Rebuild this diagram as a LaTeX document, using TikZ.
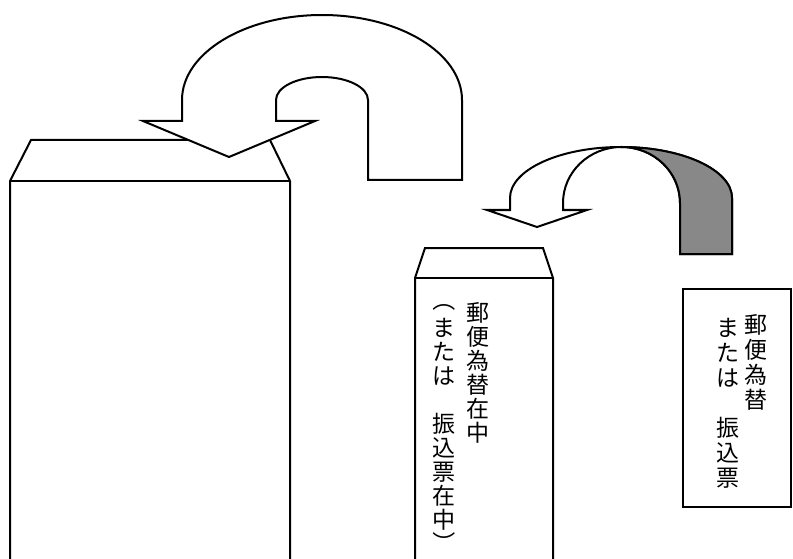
\documentclass[tikz,border=0pt]{standalone}
\usepackage{fontspec}
\newfontfamily\jp{Noto Sans CJK JP}
\usetikzlibrary{positioning}
\definecolor{backgray}{RGB}{136,136,136}
\tikzstyle{outline}=[draw=black, line width=2pt, line join=miter]
\tikzstyle{moji}=[inner sep=0pt, anchor=base, font=\jp\fontsize{23}{24}\selectfont]
\tikzstyle{kakko}=[inner sep=0pt, anchor=center, rotate=-90, font=\jp\fontsize{23}{24}\selectfont]

\begin{document}
\begin{tikzpicture}[x=1pt, y=-1pt]
            \useasboundingbox (0,0) rectangle (793,559);
            %large envelope, flap open
            \draw[outline] (10,559) -- (10,181) -- (31,140) -- (270,140) -- (290,181) -- (290,559);
            \draw[outline] (10,181) -- (290,181);
            %big turning arrow over the flap
            \draw[outline, fill=white] (229,157) -- (143,121) -- (182,121) -- (182,100)
                arc[start angle=180, end angle=0, x radius=140pt, y radius=85pt] -- (462,180) -- (368,180) -- (368,100)
                arc[start angle=0, end angle=180, x radius=46pt, y radius=23pt] -- (276,121) -- (315,121) -- cycle;
            %small envelope
            \draw[outline] (415,559) -- (415,278) -- (425,248) -- (543,248) -- (553,278) -- (553,559);
            \draw[outline] (415,278) -- (553,278);
            %small arrow, back side in gray
            \draw[outline, fill=white] (537,227) -- (487,210) -- (510,210) -- (510,198)
                arc[start angle=180, end angle=0, x radius=111pt, y radius=51pt] -- (732,254) -- (680,254) -- (680,203)
                arc[start angle=0, end angle=180, x radius=58.5pt, y radius=56pt] -- (563,210) -- (587,210) -- cycle;
            \draw[outline, fill=backgray] (621,147)
                arc[start angle=90, end angle=0, x radius=111pt, y radius=51pt] -- (732,254) -- (680,254) -- (680,203)
                arc[start angle=0, end angle=90, x radius=58.5pt, y radius=56pt] -- cycle;
            %slip
            \draw[outline] (683,289) rectangle (791,507);
            %vertical writing, one glyph per node
            \foreach \c [count=\i from 0] in {郵,便,為,替,在,中}{
                \node[moji] (zai\i) at (478,{321+24*\i}) {\c};
            }
            \node[kakko] (open) at (444,299.5) {（};
            \foreach \c [count=\i from 1] in {ま,た,は,　,振,込,票,在,中}{
                \node[moji] (mata\i) at (444,{312+24*\i}) {\c};
            }
            \node[kakko] (close) at (444,543) {）};
            \foreach \c [count=\i from 0] in {郵,便,為,替}{
                \node[moji] (gawase\i) at (756,{333+25*\i}) {\c};
            }
            \foreach \c [count=\i from 0] in {ま,た,は,　,振,込,票}{
                \node[moji] (furi\i) at (728,{336+25*\i}) {\c};
            }
        \end{tikzpicture}
\end{document}
